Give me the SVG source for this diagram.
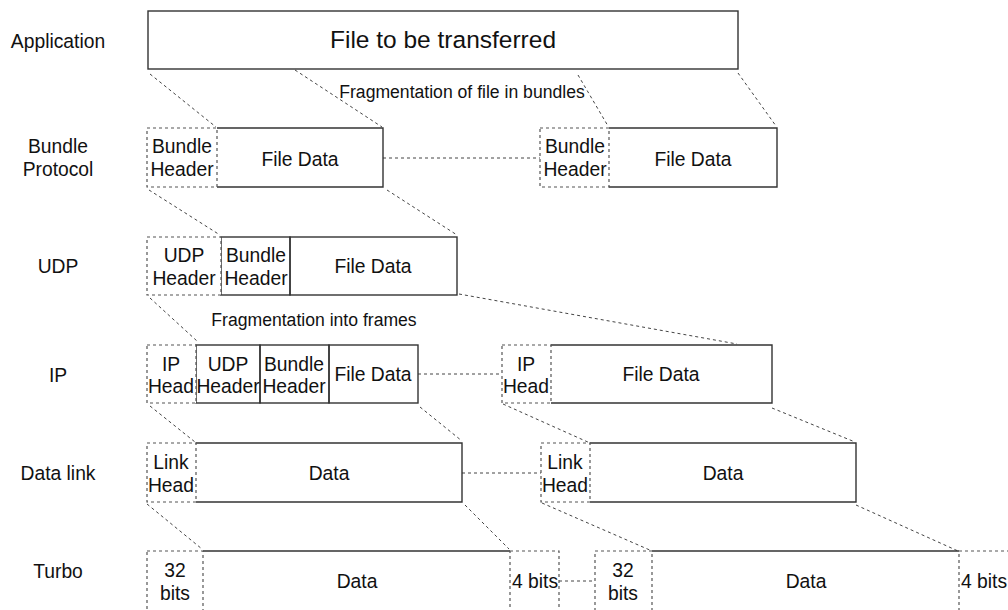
<svg xmlns="http://www.w3.org/2000/svg" width="1008" height="610" viewBox="0 0 1008 610">
  <style>
    text { font-family: "Liberation Sans", Arial, sans-serif; fill: #111; text-anchor: middle; }
    .lbl { font-size: 19.3px; }
    .note { font-size: 17.6px; }
    .title { font-size: 24.5px; }
    .solid { fill: none; stroke: #333; stroke-width: 1.4; }
    .dash { fill: #fff; stroke: #555; stroke-width: 1.2; stroke-dasharray: 3 3; }
    .conn { fill: none; stroke: #444; stroke-width: 1; stroke-dasharray: 3 3; }
  </style>
  <rect width="1008" height="610" fill="#fff"/>

  <!-- layer names -->
  <g id="layer-labels">
    <text class="lbl" x="58" y="48">Application</text>
    <text class="lbl" x="58" y="153">Bundle</text>
    <text class="lbl" x="58" y="176">Protocol</text>
    <text class="lbl" x="58" y="273">UDP</text>
    <text class="lbl" x="58" y="382">IP</text>
    <text class="lbl" x="58" y="480">Data link</text>
    <text class="lbl" x="58" y="578">Turbo</text>
  </g>

  <!-- dashed connectors between rows and between fragments -->
  <g id="connectors">
    <line class="conn" x1="150" y1="74" x2="216" y2="127"/>
    <line class="conn" x1="295" y1="70" x2="382" y2="127"/>
    <line class="conn" x1="578" y1="75" x2="608" y2="126"/>
    <line class="conn" x1="738" y1="73" x2="776" y2="126"/>
    <line class="conn" x1="383" y1="158" x2="540" y2="158"/>

    <line class="conn" x1="149" y1="190" x2="220" y2="235"/>
    <line class="conn" x1="387" y1="190" x2="457" y2="235"/>

    <line class="conn" x1="150" y1="298" x2="197" y2="341"/>
    <line class="conn" x1="459" y1="294" x2="737" y2="344"/>

    <line class="conn" x1="150" y1="406" x2="195" y2="442"/>
    <line class="conn" x1="420" y1="407" x2="462" y2="441"/>
    <line class="conn" x1="418" y1="374" x2="502" y2="374"/>
    <line class="conn" x1="503" y1="404" x2="590" y2="443"/>
    <line class="conn" x1="772" y1="408" x2="855" y2="442"/>

    <line class="conn" x1="462" y1="473" x2="541" y2="473"/>
    <line class="conn" x1="147" y1="504" x2="202" y2="549"/>
    <line class="conn" x1="465" y1="505" x2="509" y2="549"/>
    <line class="conn" x1="542" y1="503" x2="652" y2="551"/>
    <line class="conn" x1="856" y1="505" x2="958" y2="551"/>

    <line class="conn" x1="559" y1="581" x2="595" y2="581"/>
  </g>

  <!-- application -->
  <g id="app-file">
    <rect class="solid" x="148" y="11" width="590" height="58"/>
    <text class="title" x="443" y="48">File to be transferred</text>
  </g>
  <text class="note" x="462" y="98">Fragmentation of file in bundles</text>

  <!-- bundle protocol -->
  <g id="bundle-1">
    <path class="solid" d="M217,128 H383 V187 H217"/>
    <rect class="dash" x="147" y="128" width="70" height="59"/>
    <text class="lbl" x="182" y="153">Bundle</text>
    <text class="lbl" x="182" y="176">Header</text>
    <text class="lbl" x="300" y="166">File Data</text>
  </g>
  <g id="bundle-2">
    <path class="solid" d="M609,128 H777 V187 H609"/>
    <rect class="dash" x="540" y="128" width="69" height="59"/>
    <text class="lbl" x="575" y="153">Bundle</text>
    <text class="lbl" x="575" y="176">Header</text>
    <text class="lbl" x="693" y="166">File Data</text>
  </g>

  <!-- UDP -->
  <g id="udp-1">
    <rect class="solid" x="221" y="237" width="69" height="58"/>
    <rect class="solid" x="290" y="237" width="167" height="58"/>
    <rect class="dash" x="147" y="237" width="74" height="58"/>
    <text class="lbl" x="184" y="262">UDP</text>
    <text class="lbl" x="184" y="285">Header</text>
    <text class="lbl" x="256" y="262">Bundle</text>
    <text class="lbl" x="256" y="285">Header</text>
    <text class="lbl" x="373" y="273">File Data</text>
  </g>
  <text class="note" x="314" y="326">Fragmentation into frames</text>

  <!-- IP -->
  <g id="ip-1">
    <rect class="solid" x="196" y="345" width="64" height="58"/>
    <rect class="solid" x="260" y="345" width="69" height="58"/>
    <rect class="solid" x="329" y="345" width="89" height="58"/>
    <rect class="dash" x="147" y="345" width="49" height="58"/>
    <text class="lbl" x="171" y="371">IP</text>
    <text class="lbl" x="171" y="393">Head</text>
    <text class="lbl" x="228" y="371">UDP</text>
    <text class="lbl" x="228" y="393">Header</text>
    <text class="lbl" x="294" y="371">Bundle</text>
    <text class="lbl" x="294" y="393">Header</text>
    <text class="lbl" x="373" y="381">File Data</text>
  </g>
  <g id="ip-2">
    <path class="solid" d="M551,345 H772 V403 H551"/>
    <rect class="dash" x="502" y="345" width="49" height="58"/>
    <text class="lbl" x="526" y="371">IP</text>
    <text class="lbl" x="526" y="393">Head</text>
    <text class="lbl" x="661" y="381">File Data</text>
  </g>

  <!-- data link -->
  <g id="link-1">
    <path class="solid" d="M196,443 H462 V502 H196"/>
    <rect class="dash" x="147" y="443" width="49" height="59"/>
    <text class="lbl" x="171" y="469">Link</text>
    <text class="lbl" x="171" y="492">Head</text>
    <text class="lbl" x="329" y="480">Data</text>
  </g>
  <g id="link-2">
    <path class="solid" d="M590,443 H856 V502 H590"/>
    <rect class="dash" x="541" y="443" width="49" height="59"/>
    <text class="lbl" x="565" y="469">Link</text>
    <text class="lbl" x="565" y="492">Head</text>
    <text class="lbl" x="723" y="480">Data</text>
  </g>

  <!-- turbo coding -->
  <g id="turbo-1">
    <path class="solid" d="M203,551 H510 M203,611 H510"/>
    <rect class="dash" x="147" y="551" width="56" height="60"/>
    <rect class="dash" x="510" y="551" width="49" height="60"/>
    <text class="lbl" x="175" y="577">32</text>
    <text class="lbl" x="175" y="600">bits</text>
    <text class="lbl" x="357" y="588">Data</text>
    <text class="lbl" x="535" y="588">4 bits</text>
  </g>
  <g id="turbo-2">
    <path class="solid" d="M652,551 H959 M652,611 H959"/>
    <rect class="dash" x="595" y="551" width="57" height="60"/>
    <rect class="dash" x="959" y="551" width="60" height="60"/>
    <text class="lbl" x="623" y="577">32</text>
    <text class="lbl" x="623" y="600">bits</text>
    <text class="lbl" x="806" y="588">Data</text>
    <text class="lbl" x="984" y="588">4 bits</text>
  </g>
</svg>
